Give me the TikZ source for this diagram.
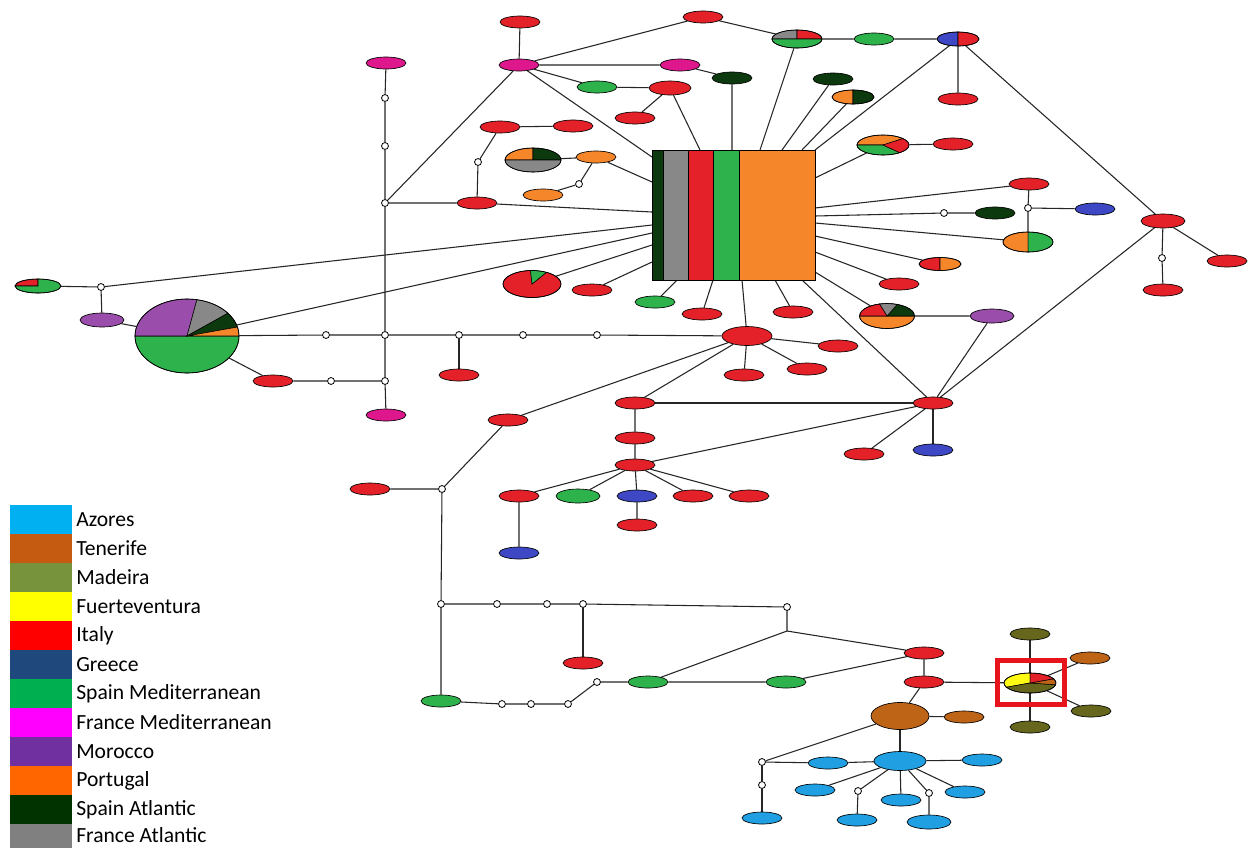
\documentclass[tikz,border=0pt]{standalone}
\usepackage{fontspec}
\setmainfont{Carlito}
\usetikzlibrary{shapes.geometric}
\pgfdeclarelayer{bgzero}
\pgfdeclarelayer{background}
\pgfsetlayers{bgzero,background,main}
\definecolor{itr}{RGB}{228,32,40}
\definecolor{grn}{RGB}{46,178,76}
\definecolor{mag}{RGB}{222,24,140}
\definecolor{dkg}{RGB}{12,58,14}
\definecolor{org}{RGB}{246,134,42}
\definecolor{gry}{RGB}{136,136,136}
\definecolor{pur}{RGB}{155,77,172}
\definecolor{blu}{RGB}{62,72,196}
\definecolor{azb}{RGB}{32,160,226}
\definecolor{ten}{RGB}{190,100,22}
\definecolor{mad}{RGB}{102,102,28}
\definecolor{yel}{RGB}{255,250,20}
\definecolor{hlred}{RGB}{232,20,28}
\definecolor{lAz}{HTML}{00B0F0}
\definecolor{lTe}{HTML}{C55A11}
\definecolor{lMa}{HTML}{77933C}
\definecolor{lFu}{HTML}{FFFF00}
\definecolor{lIt}{HTML}{FF0000}
\definecolor{lGr}{HTML}{1F497D}
\definecolor{lSM}{HTML}{00B050}
\definecolor{lFM}{HTML}{FF00FF}
\definecolor{lMo}{HTML}{7030A0}
\definecolor{lPo}{HTML}{FF6600}
\definecolor{lSA}{HTML}{003300}
\definecolor{lFA}{HTML}{808080}
\newcommand\hapnode[5][]{\node[hap,fill=#2,#1] (#3) at (#4,-#5) {};}
\newcommand\waynode[3]{\node[way] (#1) at (#2,-#3) {};}
\newcommand\pienode[6]{%
  \node[pieshape,minimum width=#4*1.5pt,minimum height=#5*1.5pt] (#1) at (#2,-#3) {};
  \foreach \sa/\sb/\sc in {#6}{%
    \filldraw[fill=\sc,draw=black,line width=0.4pt] (#2,-#3) -- ++(\sa:#4 and #5)
      arc[start angle=\sa,end angle=\sb,x radius=#4,y radius=#5] -- cycle;}
  \draw[line width=0.5pt] (#2,-#3) ellipse [x radius=#4,y radius=#5];}
\newcommand\legitem[5][0]{%
  \fill[#3] (10,-#4) rectangle (72,-#4-29);
  \node[legtext] (#2) at (76,-#4-14.5+#1) {#5};}
\begin{document}
\begin{tikzpicture}[x=0.75pt,y=0.75pt,
  hap/.style={ellipse,draw=black,line width=0.5pt,inner sep=0pt,minimum width=30pt,minimum height=9pt},
  s42/.style={minimum width=31.5pt,minimum height=10.5pt},
  s44/.style={minimum width=33pt,minimum height=10.5pt},
  way/.style={circle,draw=black,fill=white,line width=0.6pt,inner sep=0pt,minimum size=5.2pt},
  link/.style={draw=black!85,line width=0.8pt},
  pieshape/.style={ellipse,inner sep=0pt},
  legtext/.style={anchor=west,inner sep=0pt,font=\fontsize{16.2}{18}\selectfont,text=black}]
\begin{pgfonlayer}{bgzero}
\fill[white] (0,0) rectangle (1248,-847);
\end{pgfonlayer}
\useasboundingbox (0,0) rectangle (1248,-847);

% ---------- central box ----------
\fill[dkg] (652,-150) rectangle (663,-280);
\fill[gry] (663,-150) rectangle (688,-280);
\fill[itr] (688,-150) rectangle (713,-280);
\fill[grn] (713,-150) rectangle (739,-280);
\fill[org] (739,-150) rectangle (815,-280);
\draw[line width=0.6pt] (663,-150) -- (663,-280) (688,-150) -- (688,-280)
  (713,-150) -- (713,-280) (739,-150) -- (739,-280);
\node[rectangle,draw=black,line width=0.7pt,minimum width=122.25pt,minimum height=97.5pt,inner sep=0pt] (box) at (733.5,-215) {};
\coordinate (bt1) at (700,-150);
\coordinate (bt2) at (732,-150);
\coordinate (bt3) at (760,-150);
\coordinate (bt4) at (782,-150);
\coordinate (bt5) at (802,-150);
\coordinate (btr) at (815,-150);
\coordinate (bl1) at (652,-157);
\coordinate (bl2) at (652,-182);
\coordinate (bl3) at (652,-212);
\coordinate (bl4) at (652,-225);
\coordinate (bl5) at (652,-233);
\coordinate (bl6) at (652,-245);
\coordinate (bl7) at (652,-262);
\coordinate (br1) at (815,-178);
\coordinate (br2) at (815,-208);
\coordinate (br3) at (815,-216);
\coordinate (br4) at (815,-223);
\coordinate (br5) at (815,-236);
\coordinate (br6) at (815,-252);
\coordinate (br7) at (815,-272);
\coordinate (bb1) at (677,-280);
\coordinate (bb2) at (713,-280);
\coordinate (bb3) at (742,-280);
\coordinate (bb4) at (775,-280);
\coordinate (bb5) at (802,-280);

% ---------- top cluster ----------
\hapnode{itr}{r1}{520}{22}
\hapnode{mag}{fm1}{519}{65}
\hapnode{itr}{r2}{703}{17}
\pienode{pA}{797}{39}{25}{9}{90/180/gry,0/90/itr,180/360/grn}
\hapnode{grn}{g1}{874}{39}
\pienode{pB}{958}{39}{21}{7}{90/270/blu,-90/90/itr}
\hapnode{itr}{r3}{958}{99}
\hapnode{mag}{fm2}{680}{65}
\hapnode{dkg}{dg1}{732}{78}
\hapnode{grn}{g2}{597}{87}
\hapnode[s42]{itr}{r4}{670}{88}
\hapnode{itr}{r5}{635}{118}
\hapnode{itr}{r6}{500}{127}
\hapnode{itr}{r7}{573}{126}
\waynode{w1}{478}{162}
\hapnode{itr}{r8}{477}{203}
\pienode{pC}{533}{160}{28}{12}{90/180/org,0/90/dkg,180/360/gry}
\hapnode{org}{o1}{596}{157}
\waynode{w2}{579}{184}
\hapnode{org}{o2}{543}{195}
\hapnode{dkg}{dg2}{833}{79}
\pienode{pD}{853}{97}{21}{7}{90/270/org,-90/90/dkg}
\pienode{pE}{883}{145}{26}{10}{40/180/org,180/310/grn,310/400/itr}
\hapnode{itr}{r9}{953}{144}
\hapnode{itr}{r10}{1029}{184}
\waynode{w3}{1028}{208}
\hapnode{blu}{b1}{1095}{209}
\waynode{w4}{944}{213}
\hapnode{dkg}{dg3}{995}{213}
\pienode{pF}{1028}{242}{25}{10}{90/270/org,-90/90/grn}
\pienode{pG}{940}{264}{21}{6.5}{90/270/itr,-90/90/org}
\hapnode{itr}{r11}{899}{284}
\pienode{pH}{887}{316}{27.5}{12.5}{180/360/org,0/68/dkg,68/106/gry,106/180/itr}
\hapnode[s44]{pur}{pu1}{992}{316}
\hapnode[s44]{itr}{r12}{1163}{221}
\waynode{w5}{1162}{258}
\hapnode{itr}{r13}{1163}{290}
\hapnode{itr}{r14}{1227}{261}

% ---------- left cluster ----------
\hapnode{mag}{fm3}{386}{63}
\waynode{w6}{385}{98}
\waynode{w7}{385}{146}
\waynode{w8}{385}{203}
\pienode{rg}{38}{286}{23}{7}{90/180/itr,180/450/grn}
\waynode{w9}{101}{287}
\hapnode[s44]{pur}{pu2}{102}{320}
\pienode{pBig}{187}{336}{52}{37}{180/360/grn,79/180/pur,38/79/gry,14/38/dkg,0/14/org}
\waynode{w10}{326}{335}
\waynode{w11}{385}{335}
\waynode{w12}{459}{335}
\waynode{w13}{523}{335}
\waynode{w14}{597}{335}
\hapnode[minimum width=37.5pt,minimum height=14.25pt]{itr}{rBig}{747}{336}
\hapnode{itr}{r15}{459}{375}
\hapnode{itr}{r16}{273}{381}
\waynode{w15}{331}{381}
\waynode{w16}{385}{381}
\hapnode{mag}{fm4}{386}{415}

% ---------- below the box ----------
\pienode{pI}{532}{284}{29}{13.5}{93/420/itr,60/93/grn}
\hapnode{itr}{r17}{592}{290}
\hapnode{grn}{g3}{655}{302}
\hapnode{itr}{r18}{702}{314}
\hapnode{itr}{r19}{793}{312}
\hapnode{itr}{r20}{838}{346}
\hapnode{itr}{r21}{744}{375}
\hapnode{itr}{r22}{807}{369}
\hapnode{itr}{r23}{635}{403}
\hapnode{itr}{r24}{508}{420}
\hapnode{itr}{r25}{933}{403}
\hapnode{blu}{b2}{933}{450}
\hapnode{itr}{r26}{864}{454}
\hapnode{itr}{r27}{635}{438}
\hapnode{itr}{r28}{635}{465}
\hapnode{itr}{r29}{519}{496}
\hapnode[s44]{grn}{g4}{578}{496}
\hapnode{blu}{b3}{637}{496}
\hapnode{itr}{r30}{693}{496}
\hapnode{itr}{r31}{749}{496}
\hapnode{itr}{r32}{637}{525}
\hapnode{blu}{b4}{519}{553}
\waynode{w17}{442}{489}
\hapnode{itr}{r33}{370}{489}
\waynode{w18}{441}{604}
\waynode{w19}{497}{604}
\waynode{w20}{547}{604}
\waynode{w21}{583}{604}
\waynode{w22}{787}{607}
\hapnode{itr}{r34}{583}{663}
\hapnode{grn}{g5}{441}{701}
\waynode{w23}{502}{704}
\waynode{w24}{531}{704}
\waynode{w25}{568}{704}
\waynode{w26}{597}{682}
\hapnode{grn}{g6}{648}{682}
\hapnode{grn}{g7}{786}{682}
\coordinate (j1) at (787,-631);
\hapnode{itr}{r35}{924}{653}
\hapnode{itr}{r36}{924}{682}
\pienode{pJ}{1030}{683}{26}{10}{90/205/yel,205/350/mad,350/385/ten,25/90/itr}
\hapnode{mad}{md1}{1030}{634}
\hapnode{mad}{md2}{1030}{727}
\hapnode{ten}{t1}{1090}{658}
\hapnode{mad}{md3}{1091}{711}
\hapnode[minimum width=43.5pt,minimum height=20.25pt]{ten}{tBig}{900}{716}
\hapnode{ten}{t2}{964}{717}
\hapnode[minimum width=39pt,minimum height=14.25pt]{azb}{aBig}{900}{761}
\waynode{w27}{762}{762}
\hapnode{azb}{a1}{828}{763}
\waynode{w28}{762}{785}
\hapnode{azb}{a2}{762}{818}
\hapnode{azb}{a3}{815}{790}
\hapnode{azb}{a4}{982}{760}
\waynode{w29}{858}{791}
\hapnode{azb}{a5}{857}{820}
\hapnode{azb}{a6}{901}{800}
\waynode{w30}{929}{793}
\hapnode[s44]{azb}{a7}{929}{822}
\hapnode{azb}{a8}{965}{792}
\draw[hlred,line width=3.5pt] (997.5,-660.5) rectangle (1064.5,-704.5);

% ---------- connectors ----------
\begin{pgfonlayer}{background}
\draw[link] (r1) -- (fm1);
\draw[link] (fm1) -- (r2) -- (pA) -- (g1) -- (pB) -- (r3);
\draw[link] (pB) -- (btr);
\draw[link] (pB) -- (r12);
\draw[link] (fm1) -- (fm2) -- (dg1) -- (bt2);
\draw[link] (fm1) -- (g2) -- (r4) -- (r5);
\draw[link] (r4) -- (bt1);
\draw[link] (fm1) -- (w8);
\draw[link] (fm1) -- (bl1);
\draw[link] (r6) -- (r7);
\draw[link] (r6) -- (w1) -- (r8);
\draw[link] (pC) -- (o1) -- (bl2);
\draw[link] (o1) -- (w2) -- (o2);
\draw[link] (w8) -- (r8) -- (bl3);
\draw[link] (pA) -- (bt3);
\draw[link] (dg2) -- (bt4);
\draw[link] (pD) -- (bt5);
\draw[link] (r9) -- (pE) -- (br1);
\draw[link] (br2) -- (r10) -- (w3) -- (pF);
\draw[link] (w3) -- (b1);
\draw[link] (br3) -- (w4) -- (dg3);
\draw[link] (br4) -- (pF);
\draw[link] (br5) -- (pG);
\draw[link] (br6) -- (r11);
\draw[link] (br7) -- (pH) -- (pu1) -- (r25);
\draw[link] (bb5) -- (r25);
\draw[link] (r12) -- (r25);
\draw[link] (r12) -- (w5) -- (r13);
\draw[link] (r12) -- (r14);
\draw[link] (fm3) -- (w6) -- (w7) -- (w8) -- (w11) -- (w16) -- (fm4);
\draw[link] (rg) -- (w9) -- (bl4);
\draw[link] (w9) -- (pu2) -- (pBig) -- (bl5);
\draw[link] (pBig) -- (w10) -- (w11) -- (w12) -- (w13) -- (w14) -- (rBig);
\draw[link] (w12) -- (r15);
\draw[link] (pBig) -- (r16) -- (w15) -- (w16);
\draw[link] (pI) -- (bl6);
\draw[link] (r17) -- (bl7);
\draw[link] (g3) -- (bb1);
\draw[link] (r18) -- (bb2);
\draw[link] (rBig) -- (bb3);
\draw[link] (r19) -- (bb4);
\draw[link] (rBig) -- (r20);
\draw[link] (rBig) -- (r21);
\draw[link] (rBig) -- (r22);
\draw[link] (rBig) -- (r23);
\draw[link] (rBig) -- (r24);
\draw[link] (r23) -- (r25);
\draw[link] (r23) -- (r27) -- (r28) -- (r25);
\draw[link] (r25) -- (b2);
\draw[link] (r25) -- (r26);
\draw[link] (r28) -- (r29) -- (b4);
\draw[link] (r28) -- (g4);
\draw[link] (r28) -- (b3) -- (r32);
\draw[link] (r28) -- (r30);
\draw[link] (r28) -- (r31);
\draw[link] (r24) -- (w17) -- (r33);
\draw[link] (w17) -- (w18) -- (w19) -- (w20) -- (w21) -- (w22) -- (j1);
\draw[link] (w21) -- (r34);
\draw[link] (w18) -- (g5) -- (w23) -- (w24) -- (w25) -- (w26) -- (g6) -- (g7) -- (r35);
\draw[link] (j1) -- (g6);
\draw[link] (j1) -- (r35) -- (r36) -- (pJ);
\draw[link] (md1) -- (pJ) -- (md2);
\draw[link] (pJ) -- (t1);
\draw[link] (pJ) -- (md3);
\draw[link] (r36) -- (tBig) -- (t2);
\draw[link] (tBig) -- (aBig);
\draw[link] (tBig) -- (w27) -- (a1) -- (aBig);
\draw[link] (w27) -- (w28) -- (a2);
\draw[link] (aBig) -- (a3);
\draw[link] (aBig) -- (a4);
\draw[link] (aBig) -- (w29) -- (a5);
\draw[link] (aBig) -- (a6);
\draw[link] (aBig) -- (w30) -- (a7);
\draw[link] (aBig) -- (a8);
\end{pgfonlayer}

% ---------- legend ----------
\legitem{lg1}{lAz}{505}{Azores}
\legitem{lg2}{lTe}{534}{Tenerife}
\legitem{lg3}{lMa}{563}{Madeira}
\legitem{lg4}{lFu}{592}{Fuerteventura}
\legitem{lg5}{lIt}{621}{Italy}
\legitem{lg6}{lGr}{650}{Greece}
\legitem{lg7}{lSM}{679}{Spain Mediterranean}
\legitem{lg8}{lFM}{708}{France Mediterranean}
\legitem{lg9}{lMo}{737}{Morocco}
\legitem{lg10}{lPo}{766}{Portugal}
\legitem{lg11}{lSA}{795}{Spain Atlantic}
\legitem[3]{lg12}{lFA}{824}{France Atlantic}
\end{tikzpicture}
\end{document}
